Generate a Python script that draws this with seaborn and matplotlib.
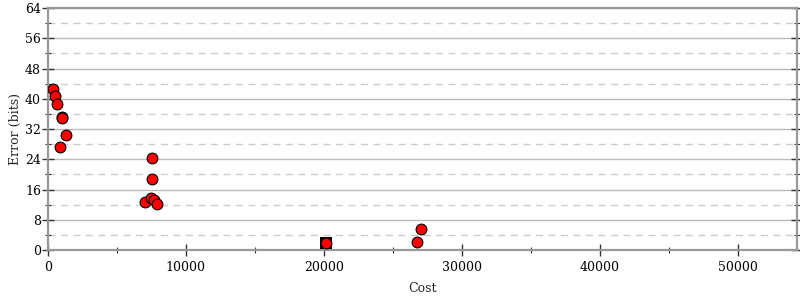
import matplotlib
matplotlib.use("Agg")
import matplotlib.pyplot as plt
import seaborn as sns
import pandas as pd
from matplotlib.ticker import MultipleLocator

costs = [340, 507, 630, 990, 1000, 1280, 870, 7540, 7540, 7050, 7460, 7700, 7870, 20170, 26740, 27050]
errors = [42.7, 40.7, 38.5, 35.2, 34.8, 30.4, 27.2, 24.3, 18.8, 12.7, 13.8, 13.2, 12.3, 1.9, 2.2, 5.5]
start_cost = [20170]
start_error = [1.9]

sns.set_style("white")
plt.rcParams['font.family'] = ['DejaVu Serif']

fig = plt.figure(figsize=(8, 3), dpi=100)
ax = fig.add_axes([0.06, 0.1667, 0.936, 0.8063])

df = pd.DataFrame({"Cost": costs, "Error": errors})
sdf = pd.DataFrame({"Cost": start_cost, "Error": start_error})

sns.scatterplot(data=sdf, x="Cost", y="Error", marker="s", s=78, color="black",
                edgecolor="black", linewidth=0, ax=ax, zorder=3)
sns.scatterplot(data=df, x="Cost", y="Error", s=60, color="#ff0000",
                edgecolor="black", linewidth=0.8, ax=ax, zorder=4)

ax.set_xlim(0, 54300)
ax.set_ylim(0, 64)
ax.xaxis.set_major_locator(MultipleLocator(10000))
ax.xaxis.set_minor_locator(MultipleLocator(5000))
ax.yaxis.set_major_locator(MultipleLocator(8))
ax.yaxis.set_minor_locator(MultipleLocator(4))

ax.grid(which="major", axis="y", color="#bbbbbb", linewidth=1.0, linestyle="-", zorder=0)
ax.grid(which="minor", axis="y", color="#cccccc", linewidth=1.0, linestyle=(0, (5, 4)), zorder=0)
ax.set_axisbelow(True)

for sp in ax.spines.values():
    sp.set_color("#999999")
    sp.set_linewidth(1.6)

ax.tick_params(axis="both", which="major", direction="inout", length=8, width=1.0,
               color="#333333", labelsize=9, labelcolor="black")
ax.tick_params(axis="both", which="minor", direction="inout", length=4, width=0.8,
               color="#333333")
ax.tick_params(axis="y", which="both", left=True, right=True, pad=1)
ax.tick_params(axis="x", which="both", bottom=True, top=False, pad=4)

ax.set_xlabel("Cost", fontsize=9, labelpad=6)
ax.set_ylabel("Error (bits)", fontsize=9, labelpad=2)

fig.savefig("out.png", dpi=100)
